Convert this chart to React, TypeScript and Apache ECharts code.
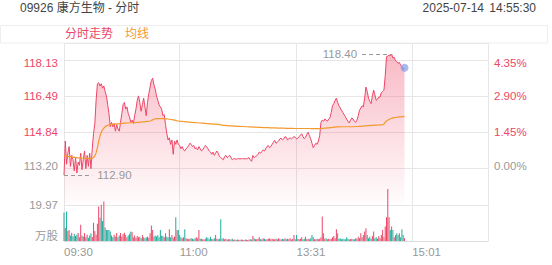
import React, { useEffect, useRef } from "react";
import * as echarts from "echarts";

const TITLE = "09926 康方生物 - 分时";
const DATE_TEXT = "2025-07-14";
const TIME_TEXT = "14:55:30";
const LEGEND_PRICE = "分时走势";
const LEGEND_AVG = "均线";
const VOL_UNIT = "万股";

const PREV_CLOSE = 113.2;
const PRICE_STEP = 1.643;
const VOL_REF = 19.97;

const LABEL_TIMES = ["09:30", "11:00", "13:31", "15:01"];
const GRID_TIMES = ["09:30", "11:00", "13:31", "15:01", "16:00"];

const PRICES = [
  112.90, 114.45, 113.40, 113.90, 114.20, 113.30, 113.80, 113.60, 113.10, 113.70,
  113.00, 113.50, 113.35, 113.90, 113.15, 113.60, 114.00, 113.20, 113.80, 113.30,
  113.90, 113.20, 114.10, 114.80, 115.25, 116.30, 117.05, 117.10, 116.95, 117.05,
  116.85, 116.95, 116.70, 116.50, 116.10, 115.70, 115.10, 115.30, 115.10, 115.25,
  114.90, 115.20, 115.00, 114.90, 115.30, 115.70, 116.10, 116.20, 115.90, 116.00,
  115.70, 115.55, 115.30, 115.40, 115.25, 115.60, 115.90, 116.30, 116.50, 116.20,
  115.80, 116.10, 116.40, 116.00, 115.60, 116.20, 116.60, 116.90, 117.20, 117.30,
  117.00, 116.80, 116.50, 116.30, 116.10, 116.00, 115.90, 115.60, 115.65, 115.20,
  114.80, 114.50, 114.60, 114.30, 114.50, 113.85, 114.45, 114.30, 114.50, 114.30,
  114.25, 114.10, 114.20, 114.05, 114.00, 114.10, 114.15, 114.25, 114.35, 114.30,
  114.20, 114.25, 114.10, 114.15, 114.05, 114.20, 114.10, 114.00, 114.05, 114.15,
  114.25, 114.20, 114.10, 114.00, 113.95, 113.85, 113.95, 113.80, 113.90, 114.00,
  113.90, 113.75, 113.70, 113.65, 113.60, 113.75, 113.80, 113.70, 113.75, 113.80,
  113.70, 113.60, 113.65, 113.65, 113.62, 113.65, 113.65, 113.64, 113.65, 113.65,
  113.65, 113.64, 113.65, 113.65, 113.70, 113.60, 113.53, 113.80, 113.70, 113.75,
  113.78, 113.85, 113.95, 113.90, 113.98, 114.05, 114.00, 114.10, 114.20, 114.25,
  114.15, 114.20, 114.30, 114.40, 114.48, 114.35, 114.40, 114.45, 114.55, 114.58,
  114.50, 114.55, 114.65, 114.62, 114.50, 114.55, 114.60, 114.55, 114.60, 114.65,
  114.62, 114.55, 114.58, 114.65, 114.72, 114.78, 114.65, 114.55, 114.62, 114.75,
  114.85, 114.70, 114.55, 114.35, 114.15, 114.25, 114.35, 114.30, 114.45, 114.70,
  115.30, 115.40, 115.35, 115.45, 115.40, 115.35, 115.45, 115.50, 115.75, 116.05,
  116.15, 116.30, 116.40, 116.20, 116.05, 115.95, 115.85, 115.75, 115.65, 115.55,
  115.45, 115.35, 115.27, 115.40, 115.50, 115.45, 115.35, 115.30, 115.40, 115.60,
  115.85, 115.95, 116.05, 116.00, 116.40, 116.90, 116.70, 116.40, 116.25, 116.15,
  116.50, 116.76, 116.55, 116.30, 116.35, 116.45, 116.45, 116.65, 116.70, 116.76,
  117.40, 118.28, 118.30, 118.36, 118.32, 118.40, 118.21, 118.25, 118.10, 118.06,
  117.98, 118.02, 117.90, 117.83, 117.72, 117.78,
];

const AVG_PRICES = [
  113.75, 113.78, 113.80, 113.76, 113.74, 113.75, 113.72, 113.71, 113.72, 113.70,
  113.70, 113.68, 113.69, 113.70, 113.68, 113.67, 113.68, 113.67, 113.66, 113.66,
  113.65, 113.65, 113.66, 113.70, 113.78, 113.92, 114.15, 114.45, 114.68, 114.85,
  114.96, 115.04, 115.10, 115.14, 115.17, 115.19, 115.20, 115.21, 115.21, 115.22,
  115.22, 115.23, 115.23, 115.24, 115.24, 115.25, 115.25, 115.26, 115.26, 115.27,
  115.27, 115.27, 115.28, 115.28, 115.28, 115.29, 115.29, 115.30, 115.30, 115.31,
  115.31, 115.32, 115.32, 115.33, 115.33, 115.34, 115.35, 115.36, 115.38, 115.41,
  115.44, 115.46, 115.47, 115.47, 115.47, 115.47, 115.47, 115.47, 115.46, 115.46,
  115.46, 115.45, 115.44, 115.43, 115.42, 115.41, 115.40, 115.39, 115.37, 115.36,
  115.35, 115.34, 115.34, 115.33, 115.33, 115.32, 115.32, 115.31, 115.31, 115.30,
  115.30, 115.29, 115.29, 115.28, 115.28, 115.27, 115.27, 115.26, 115.26, 115.25,
  115.25, 115.24, 115.24, 115.23, 115.23, 115.23, 115.22, 115.22, 115.22, 115.21,
  115.21, 115.21, 115.18, 115.17, 115.16, 115.16, 115.15, 115.15, 115.15, 115.14,
  115.14, 115.14, 115.13, 115.13, 115.13, 115.12, 115.12, 115.12, 115.11, 115.11,
  115.11, 115.10, 115.10, 115.10, 115.09, 115.09, 115.09, 115.08, 115.08, 115.08,
  115.08, 115.07, 115.07, 115.07, 115.07, 115.06, 115.06, 115.06, 115.06, 115.06,
  115.05, 115.05, 115.05, 115.05, 115.05, 115.05, 115.04, 115.04, 115.04, 115.04,
  115.04, 115.04, 115.03, 115.03, 115.03, 115.03, 115.03, 115.03, 115.03, 115.02,
  115.02, 115.02, 115.02, 115.02, 115.02, 115.02, 115.02, 115.02, 115.02, 115.02,
  115.02, 115.02, 115.01, 115.01, 115.01, 115.01, 115.01, 115.01, 115.01, 115.01,
  115.02, 115.03, 115.03, 115.04, 115.04, 115.05, 115.05, 115.06, 115.06, 115.07,
  115.08, 115.08, 115.09, 115.09, 115.09, 115.10, 115.10, 115.10, 115.10, 115.10,
  115.10, 115.10, 115.10, 115.10, 115.10, 115.10, 115.10, 115.11, 115.11, 115.11,
  115.12, 115.12, 115.13, 115.13, 115.14, 115.14, 115.15, 115.15, 115.15, 115.16,
  115.16, 115.16, 115.17, 115.17, 115.17, 115.18, 115.18, 115.18, 115.19, 115.22,
  115.30, 115.36, 115.40, 115.43, 115.46, 115.48, 115.50, 115.51, 115.52, 115.53,
  115.54, 115.55, 115.55, 115.56, 115.56, 115.57,
];

const VOLUMES = [
  15.7, 7.2, 16.3, 5.5, 6.1, 3.0, 4.6, 2.5, 4.0, 2.8,
  3.5, 4.4, 2.0, 8.9, 3.0, 2.5, 4.4, 2.0, 3.5, 1.8,
  3.0, 4.3, 2.2, 10.0, 5.5, 3.5, 9.5, 19.0, 12.8, 20.0,
  11.0, 21.8, 7.5, 6.0, 6.1, 6.0, 5.2, 3.0, 2.0, 3.5,
  2.5, 4.4, 2.0, 3.0, 4.4, 2.5, 3.8, 4.5, 3.3, 2.0,
  3.0, 4.0, 5.2, 5.0, 2.0, 3.0, 1.8, 2.8, 2.0, 2.4,
  1.5, 3.3, 2.0, 1.5, 2.0, 2.4, 1.8, 4.3, 8.5, 6.0,
  2.5, 3.0, 2.5, 3.3, 2.0, 6.1, 3.0, 2.8, 2.0, 4.3,
  2.4, 2.0, 6.5, 2.0, 3.3, 1.8, 2.5, 13.1, 6.0, 6.1,
  3.3, 2.0, 1.5, 2.0, 6.5, 1.5, 1.3, 1.0, 1.3, 1.5,
  1.3, 1.0, 1.5, 2.0, 1.5, 6.0, 1.2, 1.3, 1.0, 0.8,
  1.2, 2.0, 1.8, 1.0, 2.4, 1.2, 1.0, 1.5, 3.3, 1.2,
  0.9, 1.3, 12.0, 1.3, 1.5, 1.0, 1.2, 0.8, 0.9, 1.0,
  0.8, 1.2, 0.7, 0.8, 0.6, 0.8, 0.7, 0.6, 0.8, 0.7,
  0.6, 0.8, 0.7, 0.5, 0.8, 1.0, 0.8, 2.8, 1.5, 0.9,
  1.0, 1.2, 2.0, 1.0, 0.9, 1.5, 1.2, 0.8, 1.0, 1.3,
  1.5, 1.0, 1.2, 0.9, 1.0, 1.2, 0.9, 1.5, 1.0, 0.8,
  1.2, 1.0, 1.5, 0.9, 1.3, 1.0, 1.5, 0.8, 1.2, 3.3,
  1.0, 3.3, 1.2, 0.9, 1.3, 2.0, 1.0, 1.2, 2.4, 1.0,
  1.2, 0.9, 1.5, 3.3, 2.0, 1.0, 0.9, 1.2, 1.0, 1.3,
  2.0, 13.5, 4.3, 1.2, 1.5, 1.0, 1.2, 0.9, 1.3, 2.0,
  2.8, 1.5, 6.5, 4.3, 1.2, 1.5, 1.0, 1.2, 0.9, 1.0,
  2.0, 1.2, 0.9, 1.0, 1.2, 0.9, 1.0, 1.5, 1.2, 2.4,
  1.5, 4.3, 2.0, 3.3, 5.2, 7.0, 3.3, 1.5, 2.4, 1.2,
  2.8, 5.2, 1.5, 2.0, 1.2, 2.8, 1.5, 3.3, 6.1, 2.0,
  8.0, 13.1, 28.7, 13.1, 6.1, 8.0, 6.1, 2.0, 3.3, 4.3,
  3.3, 4.3, 2.0, 6.5, 3.3, 1.5,
];

const FONT = '"Liberation Sans", "Noto Sans CJK SC", Arial, sans-serif';
const RED = "#ec4667";
const TEAL = "#1fae9c";
const ORANGE = "#f39a2e";
const GREY = "#999999";
const GRID_LINE = "#e6e6e6";

function pad2(n: number) {
  return n < 10 ? "0" + n : "" + n;
}

function buildTimes(): string[] {
  const out: string[] = [];
  for (let m = 9 * 60 + 30; m <= 12 * 60; m++) out.push(pad2(Math.floor(m / 60)) + ":" + pad2(m % 60));
  for (let m = 13 * 60 + 1; m <= 16 * 60; m++) out.push(pad2(Math.floor(m / 60)) + ":" + pad2(m % 60));
  return out;
}

function stepIndex(v: number): number {
  const k = Math.round(v / PRICE_STEP);
  if (k < 0 || k > 3 || Math.abs(v - k * PRICE_STEP) > 1e-6) return -1;
  return k;
}

export default function App() {
  const ref = useRef<HTMLDivElement>(null);

  useEffect(() => {
    if (!ref.current) return;
    const chart = echarts.init(ref.current, undefined, { renderer: "svg" });
    const times = buildTimes();
    const priceOffsets = PRICES.map((p) => +(p - PREV_CLOSE).toFixed(4));
    const avgOffsets = AVG_PRICES.map((p) => +(p - PREV_CLOSE).toFixed(4));

    let maxIdx = 0;
    let minIdx = 0;
    PRICES.forEach((p, i) => {
      if (p > PRICES[maxIdx]) maxIdx = i;
      if (p < PRICES[minIdx]) minIdx = i;
    });
    const lastIdx = PRICES.length - 1;

    const volData = VOLUMES.map((v, i) => {
      const prev = i === 0 ? PREV_CLOSE : PRICES[i - 1];
      const up = PRICES[i] >= prev;
      return { value: v, itemStyle: { color: up ? RED : TEAL } };
    });

    const priceAxisMax = (168.6 - 43) / ((168.6 - 60) / (3 * PRICE_STEP));

    const richBase = { fontSize: 11.5, fontFamily: FONT };
    const rich = {
      r: { ...richBase, color: RED },
      g: { ...richBase, color: GREY },
      rt: { ...richBase, color: RED, padding: [6, 0, 0, 0] },
      gb: { ...richBase, color: GREY, padding: [0, 0, 6, 0] },
      u: { ...richBase, color: GREY, padding: [0, 0, 10, 0] },
    };

    const styleFor = (k: number) => (k === 0 ? "gb" : k === 3 ? "rt" : "r");

    const option: any = {
      animation: false,
      backgroundColor: "#ffffff",
      textStyle: { fontFamily: FONT },
      graphic: [
        {
          type: "text",
          x: 20,
          y: 8,
          style: { text: TITLE, fill: "#444", fontSize: 12, fontFamily: FONT, verticalAlign: "middle" },
        },
        {
          type: "text",
          x: 484,
          y: 8,
          style: { text: DATE_TEXT, fill: "#444", fontSize: 12, fontFamily: FONT, align: "right", verticalAlign: "middle" },
        },
        {
          type: "text",
          x: 536,
          y: 8,
          style: { text: TIME_TEXT, fill: "#444", fontSize: 12, fontFamily: FONT, align: "right", verticalAlign: "middle" },
        },
        {
          type: "rect",
          shape: { x: 0.5, y: 25.5, width: 547, height: 17.5 },
          style: { fill: "none", stroke: "#eeeeee", lineWidth: 1 },
        },
        {
          type: "text",
          x: 65,
          y: 34,
          style: { text: LEGEND_PRICE, fill: RED, fontSize: 12, fontFamily: FONT, verticalAlign: "middle" },
        },
        {
          type: "text",
          x: 125,
          y: 34,
          style: { text: LEGEND_AVG, fill: ORANGE, fontSize: 12, fontFamily: FONT, verticalAlign: "middle" },
        },
      ],
      grid: [
        { left: 64, width: 424, top: 43, height: 161.8 },
        { left: 64, width: 424, top: 204.8, height: 36.2 },
      ],
      xAxis: [
        {
          type: "category",
          gridIndex: 0,
          data: times,
          boundaryGap: false,
          axisLine: { show: false },
          axisTick: { show: false },
          axisLabel: { show: false },
          splitLine: {
            show: true,
            interval: (_i: number, v: string) => GRID_TIMES.includes(v),
            lineStyle: { color: GRID_LINE, width: 1 },
          },
        },
        {
          type: "category",
          gridIndex: 1,
          data: times,
          boundaryGap: false,
          axisLine: { show: true, lineStyle: { color: "#dddddd" } },
          axisTick: { show: false },
          axisLabel: {
            show: true,
            interval: (_i: number, v: string) => LABEL_TIMES.includes(v),
            align: "left",
            color: GREY,
            fontSize: 11.5,
            fontFamily: FONT,
            margin: 5,
          },
          splitLine: {
            show: true,
            interval: (_i: number, v: string) => GRID_TIMES.includes(v),
            lineStyle: { color: GRID_LINE, width: 1 },
          },
        },
      ],
      yAxis: [
        {
          type: "value",
          gridIndex: 0,
          min: -PRICE_STEP,
          max: priceAxisMax,
          interval: PRICE_STEP,
          axisLine: { show: false },
          axisTick: { show: false },
          splitLine: { show: true, lineStyle: { color: GRID_LINE, width: 1 } },
          axisLabel: {
            margin: 6,
            rich,
            formatter: (v: number) => {
              const k = stepIndex(v);
              if (k < 0) return "";
              return "{" + styleFor(k) + "|" + (PREV_CLOSE + k * PRICE_STEP).toFixed(2) + "}";
            },
          },
        },
        {
          type: "value",
          gridIndex: 0,
          position: "right",
          min: -PRICE_STEP,
          max: priceAxisMax,
          interval: PRICE_STEP,
          axisLine: { show: false },
          axisTick: { show: false },
          splitLine: { show: false },
          axisLabel: {
            margin: 6,
            rich,
            formatter: (v: number) => {
              const k = stepIndex(v);
              if (k < 0) return "";
              return "{" + styleFor(k) + "|" + ((k * PRICE_STEP) / PREV_CLOSE * 100).toFixed(2) + "%}";
            },
          },
        },
        {
          type: "value",
          gridIndex: 1,
          min: 0,
          max: VOL_REF,
          interval: VOL_REF,
          axisLine: { show: false },
          axisTick: { show: false },
          splitLine: { show: false },
          axisLabel: {
            margin: 6,
            rich,
            formatter: (v: number) => (v === 0 ? "{u|" + VOL_UNIT + "}" : "{g|" + VOL_REF.toFixed(2) + "}"),
          },
        },
      ],
      series: [
        {
          name: LEGEND_PRICE,
          type: "line",
          xAxisIndex: 0,
          yAxisIndex: 0,
          data: priceOffsets,
          symbol: "none",
          showSymbol: false,
          lineStyle: { color: RED, width: 1 },
          itemStyle: { color: RED },
          areaStyle: {
            origin: "start",
            color: new echarts.graphic.LinearGradient(0, 0, 0, 1, [
              { offset: 0, color: "rgba(240, 75, 105, 0.55)" },
              { offset: 1, color: "rgba(240, 75, 105, 0.02)" },
            ]),
          },
          markLine: {
            silent: true,
            animation: false,
            symbol: ["none", "none"],
            lineStyle: { color: GREY, type: [4, 3], width: 1 },
            label: { color: GREY, fontSize: 11.5, fontFamily: FONT },
            data: [
              [
                {
                  coord: [times[maxIdx - 23], priceOffsets[maxIdx]],
                  label: { position: "start", formatter: PRICES[maxIdx].toFixed(2) },
                },
                { coord: [times[maxIdx], priceOffsets[maxIdx]] },
              ],
              [
                {
                  coord: [times[minIdx], priceOffsets[minIdx]],
                  label: { position: "end", formatter: PRICES[minIdx].toFixed(2) },
                },
                { coord: [times[minIdx + 22], priceOffsets[minIdx]] },
              ],
            ],
          },
          markPoint: {
            silent: true,
            animation: false,
            data: [
              {
                coord: [times[lastIdx], priceOffsets[lastIdx]],
                symbol: "circle",
                symbolSize: 8,
                itemStyle: { color: "rgba(130, 155, 235, 0.7)" },
                label: { show: false },
              },
            ],
          },
          z: 2,
        },
        {
          name: LEGEND_AVG,
          type: "line",
          xAxisIndex: 0,
          yAxisIndex: 0,
          data: avgOffsets,
          symbol: "none",
          showSymbol: false,
          lineStyle: { color: ORANGE, width: 1.2 },
          itemStyle: { color: ORANGE },
          z: 3,
        },
        {
          name: VOL_UNIT,
          type: "bar",
          xAxisIndex: 1,
          yAxisIndex: 2,
          data: volData,
          barWidth: 1,
          clip: false,
        },
      ],
    };

    chart.setOption(option);
    return () => {
      chart.dispose();
    };
  }, []);

  return (
    <div
      ref={ref}
      style={{ position: "absolute", left: 0, top: 0, width: 552, height: 265, background: "#fff" }}
    />
  );
}
